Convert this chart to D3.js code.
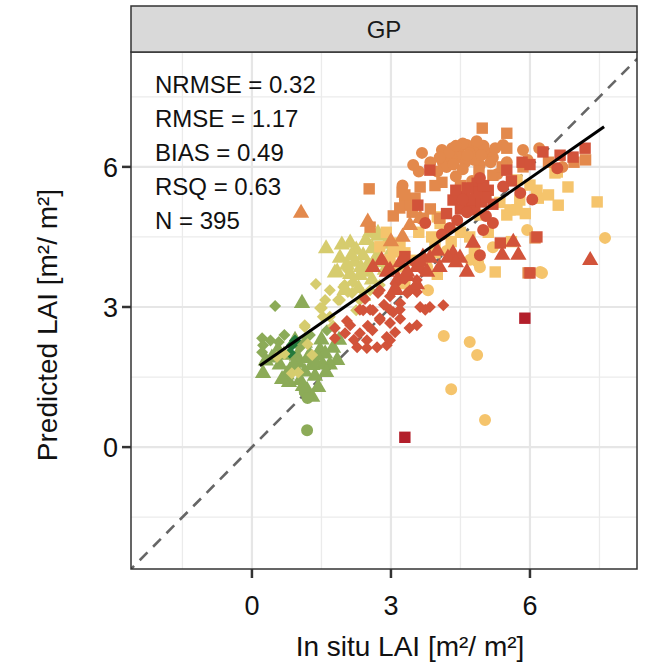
<!DOCTYPE html>
<html>
<head>
<meta charset="utf-8">
<script src="https://cdn.jsdelivr.net/npm/d3@7"></script>
<style>
  body { margin: 0; background: #fff; }
  text { font-family: "Liberation Sans", Arial, sans-serif; }
</style>
</head>
<body>
<div class="chart"></div>
<script>
// points, [in situ, predicted]
const greenDarkDia = [[0.86,2.18],[0.93,2.28],[0.82,2.02]];
const oliveDia = [[0.50,3.02],[0.22,2.33],[0.24,2.18],[0.22,2.03],[0.58,2.25],[1.04,2.14],[1.62,2.50],[1.25,2.40],[0.40,2.28],[0.70,2.40]];
const oliveTri = [[0.24,1.58],[1.08,3.08],[1.84,1.86],[1.75,2.12],[1.88,2.29],[1.68,1.76],[0.60,1.76],[0.82,1.65],[0.97,1.95],[1.14,2.23],[1.25,1.97],[1.04,1.43],[1.36,1.52],[1.53,1.76],[1.19,1.22],[1.30,1.07],[0.69,1.97],[0.43,1.91],[0.93,2.29],[1.47,2.08],[0.80,1.39],[1.14,1.61],[1.43,1.28],[1.58,2.00],[0.56,2.08],[1.00,1.80],[1.30,1.75],[1.20,1.90],[0.75,1.55],[1.10,1.30],[1.40,1.95],[0.30,1.85],[0.90,1.75],[1.35,1.85],[1.60,1.60],[0.65,1.45],[1.50,2.30]];
const oliveCirc = [[1.19,0.36],[1.14,1.18],[1.20,1.05]];
const khakiDia = [[1.38,3.49],[1.47,2.98],[1.53,2.79],[1.14,2.61],[1.30,1.97],[0.86,1.58],[0.54,1.93],[1.86,3.15],[1.97,3.43],[2.18,3.53],[1.51,2.98],[1.68,2.79],[1.14,2.57],[1.90,3.15],[2.07,3.32],[2.00,3.47],[2.33,3.15],[2.55,3.36],[2.25,2.93],[1.58,3.15],[1.68,3.36],[2.76,3.47],[1.75,2.60],[1.20,2.20],[1.00,1.60],[0.70,2.00],[2.07,3.79],[2.16,3.30]];
const khakiTri = [[1.94,4.33],[2.12,4.37],[2.46,4.43],[2.72,4.52],[1.84,3.75],[2.50,3.90],[2.22,3.96],[2.33,3.68],[2.59,3.58],[2.00,3.36],[2.40,3.23],[2.72,4.11],[2.87,3.79],[2.25,4.22],[1.90,4.05],[3.02,4.22],[2.12,3.70],[2.65,4.00],[2.40,4.10],[2.05,3.90],[2.80,3.95],[2.30,3.40],[1.60,4.25],[2.55,4.60],[1.79,3.73],[2.72,4.58],[2.15,4.10],[2.60,4.25],[2.35,3.85],[2.90,4.35],[2.45,3.75]];
const lightSq = [[6.82,5.57],[6.61,5.18],[7.45,5.25],[6.14,5.44],[6.18,5.33],[5.50,4.97],[5.72,5.08],[6.54,5.87],[5.25,3.75],[4.00,4.93],[4.06,4.79],[3.19,4.37],[3.05,4.18],[3.95,4.37],[5.72,5.72],[5.78,5.29],[6.00,5.61],[6.15,5.50],[5.57,5.08],[5.35,5.24],[4.92,4.97],[6.59,5.89],[3.19,4.29],[3.30,4.16],[3.88,4.50],[3.95,4.16],[2.98,4.01],[3.19,3.86],[2.76,4.29],[4.50,4.60],[4.70,4.50],[5.10,4.60],[4.30,4.40],[3.60,4.60],[4.80,4.20],[5.90,5.00],[6.40,5.40],[3.50,4.00],[2.90,4.60],[4.00,3.70],[3.30,3.50],[5.60,4.40]];
const lightCirc = [[4.14,2.38],[4.70,2.25],[4.86,1.97],[4.30,1.24],[5.03,0.58],[7.62,4.48],[6.22,3.75],[3.78,3.86],[4.92,3.85],[5.94,4.65],[4.71,4.01],[3.80,3.36],[4.20,4.20],[5.20,4.28],[6.26,3.73],[4.88,3.96]];
const orangeCirc = [[3.48,6.04],[3.67,6.30],[4.10,6.36],[4.32,6.40],[4.45,6.36],[4.64,6.47],[4.80,6.36],[5.08,6.30],[5.42,6.47],[5.85,6.36],[6.70,6.00],[5.50,6.10],[4.12,6.10],[4.49,6.21],[4.92,6.04],[5.20,6.20],[4.60,6.10],[4.30,6.20],[4.70,6.30],[5.00,6.45],[4.20,6.00],[3.25,5.60],[3.60,5.90],[5.30,5.85],[4.40,5.80],[4.75,5.70],[5.95,6.15],[6.20,6.40],[3.30,5.30],[4.55,6.50],[4.85,6.55],[5.15,6.10],[4.00,5.90],[4.35,6.05],[4.55,5.95],[4.80,6.15],[4.25,6.30],[4.95,6.25],[4.65,6.25],[4.40,6.45],[4.05,6.20],[3.85,6.10],[5.25,6.40]];
const orangeSq = [[4.97,6.83],[5.50,6.72],[5.50,6.40],[5.85,6.00],[3.24,5.46],[3.30,5.18],[3.46,5.03],[3.63,5.57],[4.10,5.67],[5.20,5.82],[6.11,4.48],[5.96,3.73],[2.53,5.53],[2.55,4.71],[3.19,5.12],[3.52,5.33],[3.41,5.22],[4.50,5.60],[4.90,5.90],[5.40,6.00],[6.40,6.10],[6.95,6.10],[7.20,6.15],[3.70,4.90],[3.05,4.95],[3.85,5.10],[4.05,4.90],[4.60,5.40],[3.30,5.40],[3.95,5.60]];
const orangeTri = [[1.06,5.01],[2.50,4.82],[3.41,4.75],[3.63,4.90],[3.00,4.40],[3.25,4.50]];
const redDia = [[2.40,2.93],[2.61,2.93],[2.76,2.76],[2.48,2.29],[2.27,2.14],[2.48,2.12],[2.70,2.14],[2.91,2.18],[2.98,2.29],[1.79,2.33],[1.79,2.55],[2.01,2.44],[2.12,2.61],[2.33,2.44],[2.72,3.30],[3.05,2.89],[2.98,2.66],[3.20,3.08],[3.35,3.30],[3.56,3.32],[3.63,3.00],[3.84,3.00],[4.13,3.04],[3.56,2.61],[3.09,2.46],[2.91,2.36],[2.76,3.36],[2.98,3.23],[2.33,2.94],[2.44,3.17],[2.55,2.94],[2.76,2.72],[2.98,2.94],[3.19,2.94],[3.41,3.36],[3.56,3.58],[3.67,3.79],[3.74,2.94],[3.40,2.55],[2.60,2.50],[2.20,2.30],[3.30,3.60],[3.50,3.95],[3.10,3.50],[2.85,3.05],[2.05,2.70],[2.50,2.60],[3.20,2.75]];
const redTri = [[2.61,3.85],[2.98,3.79],[3.09,3.40],[3.15,3.60],[3.35,3.66],[3.56,3.85],[3.69,4.07],[3.84,4.05],[4.34,4.15],[4.23,4.05],[4.49,4.05],[4.64,3.75],[4.77,4.37],[5.40,4.11],[5.75,4.11],[5.64,4.39],[7.30,4.00],[2.91,3.75],[3.35,3.75],[3.63,3.96],[3.78,3.75],[3.56,3.48],[3.09,3.36],[4.00,4.20],[3.20,3.95],[2.80,4.00],[4.40,3.95],[4.05,3.85]];
const redSq = [[3.84,5.93],[4.34,5.29],[4.60,5.36],[4.92,5.44],[4.86,5.65],[4.81,5.08],[5.50,5.93],[5.83,6.10],[6.28,6.32],[6.65,6.25],[6.93,6.21],[7.19,6.40],[3.58,5.18],[5.36,4.37],[6.15,4.50],[6.00,3.73],[3.30,4.08],[4.50,5.10],[4.70,5.25],[5.10,5.50],[5.20,5.20],[4.40,5.50],[6.00,6.05],[5.60,5.70],[4.20,5.00],[4.75,5.30],[4.95,5.25],[5.05,5.35],[4.85,5.45],[4.65,5.55],[5.00,5.60]];
const redCirc = [[4.92,5.76],[4.43,4.86],[4.99,4.65],[5.20,4.80],[4.27,4.69],[5.79,5.44],[5.42,5.58],[6.59,5.97],[4.64,5.03],[4.92,4.11],[3.74,4.80],[4.10,4.55],[5.05,4.95],[4.55,5.30],[6.05,5.30]];
const darkRedSq = [[3.30,0.21],[5.89,2.76]];

const fitLine = [[0.17,1.74],[7.60,6.86]];
const statLabels = ["NRMSE = 0.32","RMSE = 1.17","BIAS = 0.49","RSQ = 0.63","N = 395"];
const majorTicks = [0,3,6];
const minorTicks = [-1.5,1.5,4.5,7.5];
const facetLabel = "GP";

const groups = [
  {pts: oliveDia, col: "#8cab58", shape: "diamond"},
  {pts: oliveTri, col: "#8cab58", shape: "triangle"},
  {pts: oliveCirc, col: "#8cab58", shape: "circle"},
  {pts: greenDarkDia, col: "#237a3c", shape: "diamond"},
  {pts: khakiDia, col: "#d6cc6e", shape: "diamond"},
  {pts: khakiTri, col: "#d6cc6e", shape: "triangle"},
  {pts: lightSq, col: "#f5c46c", shape: "square"},
  {pts: lightCirc, col: "#f5c46c", shape: "circle"},
  {pts: orangeCirc, col: "#e3894c", shape: "circle"},
  {pts: orangeSq, col: "#e3894c", shape: "square"},
  {pts: orangeTri, col: "#e3894c", shape: "triangle"},
  {pts: redDia, col: "#d2533a", shape: "diamond"},
  {pts: redTri, col: "#d2533a", shape: "triangle"},
  {pts: redSq, col: "#d2533a", shape: "square"},
  {pts: redCirc, col: "#d2533a", shape: "circle"},
  {pts: darkRedSq, col: "#b31f2b", shape: "square"}
];

const width = 656, height = 663;
const pLeft = 131, pRight = 637, pTop = 52, pBottom = 569;

const x = d3.scaleLinear().domain([-2.61, 8.31]).range([pLeft, pRight]);
const y = d3.scaleLinear().domain([-2.61, 8.46]).range([pBottom, pTop]);

const svg = d3.select('.chart')
  .append('svg')
  .attr('width', width)
  .attr('height', height)

svg.append("defs").append("clipPath").attr("id", "clip")
  .append("rect")
  .attr("x", pLeft).attr("y", pTop)
  .attr("width", pRight - pLeft).attr("height", pBottom - pTop)

// grid
const grid = svg.append("g")
grid.selectAll(".vminor").data(minorTicks).enter().append("line")
  .attr("x1", d => x(d)).attr("x2", d => x(d))
  .attr("y1", pTop).attr("y2", pBottom)
  .attr("stroke", "#ebebeb").attr("stroke-width", 1.3)
grid.selectAll(".hminor").data(minorTicks).enter().append("line")
  .attr("y1", d => y(d)).attr("y2", d => y(d))
  .attr("x1", pLeft).attr("x2", pRight)
  .attr("stroke", "#ebebeb").attr("stroke-width", 1.3)
grid.selectAll(".vmajor").data(majorTicks).enter().append("line")
  .attr("x1", d => x(d)).attr("x2", d => x(d))
  .attr("y1", pTop).attr("y2", pBottom)
  .attr("stroke", "#e6e6e6").attr("stroke-width", 2.2)
grid.selectAll(".hmajor").data(majorTicks).enter().append("line")
  .attr("y1", d => y(d)).attr("y2", d => y(d))
  .attr("x1", pLeft).attr("x2", pRight)
  .attr("stroke", "#e6e6e6").attr("stroke-width", 2.2)

const plot = svg.append("g").attr("clip-path", "url(#clip)")

// 1:1 line
plot.append("line")
  .attr("x1", x(-3)).attr("y1", y(-3))
  .attr("x2", x(9)).attr("y2", y(9))
  .attr("stroke", "#666").attr("stroke-width", 2.6)
  .attr("stroke-dasharray", "11,8")

const symbols = {
  circle: d3.symbol().type(d3.symbolCircle).size(113),
  square: d3.symbol().type(d3.symbolSquare).size(130),
  triangle: d3.symbol().type(d3.symbolTriangle).size(115),
  diamond: d3.symbol().type(d3.symbolSquare).size(72)
};

groups.forEach(function(g) {
  plot.append("g").selectAll("path")
    .data(g.pts)
    .enter()
    .append("path")
    .attr("d", symbols[g.shape]())
    .attr("transform", function(d) {
      let t = "translate(" + x(d[0]) + "," + y(d[1]) + ")";
      if (g.shape === "diamond") t += " rotate(45)";
      return t;
    })
    .attr("fill", g.col)
});

// regression line
plot.append("path")
  .datum(fitLine)
  .attr("d", d3.line().x(d => x(d[0])).y(d => y(d[1])))
  .attr("stroke", "#000").attr("stroke-width", 3).attr("fill", "none")

// panel border
svg.append("rect")
  .attr("x", pLeft).attr("y", pTop)
  .attr("width", pRight - pLeft).attr("height", pBottom - pTop)
  .attr("fill", "none").attr("stroke", "#333").attr("stroke-width", 1.5)

// strip
svg.append("rect")
  .attr("x", pLeft).attr("y", 6)
  .attr("width", pRight - pLeft).attr("height", pTop - 6)
  .attr("fill", "#d9d9d9").attr("stroke", "#333").attr("stroke-width", 1.5)
svg.append("text")
  .attr("x", (pLeft + pRight) / 2).attr("y", 38)
  .attr("text-anchor", "middle")
  .attr("font-size", 24).attr("fill", "#1a1a1a")
  .text(facetLabel)

// stats
svg.selectAll(".stat").data(statLabels).enter().append("text")
  .attr("class", "stat")
  .attr("x", 155)
  .attr("y", (d, i) => 93 + i * 34)
  .attr("font-size", 24).attr("fill", "#111")
  .text(d => d)

// axes ticks
svg.selectAll(".xtick").data(majorTicks).enter().append("line")
  .attr("x1", d => x(d)).attr("x2", d => x(d))
  .attr("y1", pBottom).attr("y2", pBottom + 9)
  .attr("stroke", "#333").attr("stroke-width", 2.5)
svg.selectAll(".ytick").data(majorTicks).enter().append("line")
  .attr("y1", d => y(d)).attr("y2", d => y(d))
  .attr("x1", pLeft - 9).attr("x2", pLeft)
  .attr("stroke", "#333").attr("stroke-width", 2.5)

svg.selectAll(".xlab").data(majorTicks).enter().append("text")
  .attr("x", d => x(d)).attr("y", 615)
  .attr("text-anchor", "middle")
  .attr("font-size", 27).attr("fill", "#111")
  .text(d => d)
svg.selectAll(".ylab").data(majorTicks).enter().append("text")
  .attr("x", 118).attr("y", d => y(d) + 10)
  .attr("text-anchor", "end")
  .attr("font-size", 27).attr("fill", "#111")
  .text(d => d)

svg.append("text")
  .attr("x", 410).attr("y", 656)
  .attr("text-anchor", "middle")
  .attr("font-size", 28).attr("fill", "#111")
  .text("In situ LAI [m²/ m²]")
svg.append("text")
  .attr("transform", "translate(57,325) rotate(-90)")
  .attr("text-anchor", "middle")
  .attr("font-size", 28).attr("fill", "#111")
  .text("Predicted LAI [m²/ m²]")
</script>
</body>
</html>
